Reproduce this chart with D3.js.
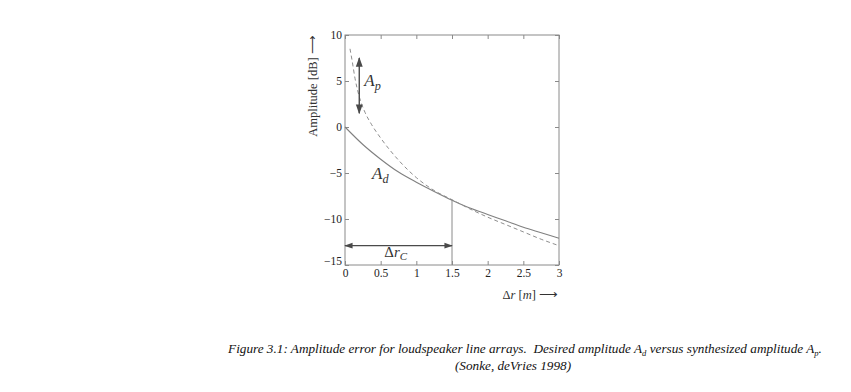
<!DOCTYPE html>
<html>
<head>
<meta charset="utf-8">
<script src="https://cdn.jsdelivr.net/npm/d3@7"></script>
<style>
  body { margin: 0; background: #fff; }
  svg text { font-family: "Liberation Serif", "Times New Roman", Tinos, serif; }
</style>
</head>
<body>
<div id="chart"></div>
<script>
// values
const rDesired = [0, 0.25, 0.5, 0.75, 1, 1.25, 1.5, 1.75, 2, 2.25, 2.5, 2.75, 3];
const ampDesired = [0, -1.9, -3.5, -4.9, -6.0, -7.0, -7.95, -8.8, -9.5, -10.2, -10.9, -11.5, -12.1];

const rSynth = [0.07, 0.1, 0.14, 0.2, 0.28, 0.37, 0.5, 0.75, 1, 1.25, 1.5, 1.75, 2, 2.25, 2.5, 2.75, 3];
const ampSynth = [8.5, 7.2, 5.3, 3.3, 1.6, 0.3, -1.2, -3.6, -5.5, -6.9, -7.9, -8.9, -9.8, -10.6, -11.4, -12.2, -12.9];

const xTicks = [0, 0.5, 1, 1.5, 2, 2.5, 3];
const yTicks = [10, 5, 0, -5, -10, -15];

// annotations
const apArrow = { r: 0.2, from: 7.5, to: 1.5 };
const drArrow = { amp: -12.9, from: 0, to: 1.5 };
const rCritical = 1.5;

const width = 851, height = 392;
const margin = { top: 35, right: 292, bottom: 127, left: 345 };
const w = width - margin.left - margin.right;
const h = height - margin.top - margin.bottom;

const svg = d3.select('#chart').append('svg')
  .attr('width', width)
  .attr('height', height);

const defs = svg.append('defs');
defs.append('marker')
  .attr('id', 'head')
  .attr('viewBox', '0 0 10 10')
  .attr('refX', 9).attr('refY', 5)
  .attr('markerWidth', 7).attr('markerHeight', 7)
  .attr('orient', 'auto-start-reverse')
  .append('path')
  .attr('d', 'M0,1.5 L10,5 L0,8.5 Z')
  .attr('fill', '#4a4a4a');

const g = svg.append('g')
  .attr('transform', 'translate(' + margin.left + ',' + margin.top + ')');

const x = d3.scaleLinear().domain([0, 3]).range([0, w]);
const y = d3.scaleLinear().domain([-15, 10]).range([h, 0]);

const grey = '#8a8a8a';
const tickFont = 11.5;

// frame
g.append('rect')
  .attr('width', w).attr('height', h)
  .attr('fill', 'none')
  .attr('stroke', grey)
  .attr('stroke-width', 1);

// inner ticks on all four sides, labels on left and bottom
const bottomAxis = g.append('g')
  .attr('transform', 'translate(0,' + h + ')')
  .call(d3.axisBottom(x).tickValues(xTicks).tickSizeInner(-4).tickSizeOuter(0).tickPadding(7)
    .tickFormat(d => d));
const topAxis = g.append('g')
  .call(d3.axisTop(x).tickValues(xTicks).tickSizeInner(-4).tickSizeOuter(0).tickFormat(''));
const leftAxis = g.append('g')
  .call(d3.axisLeft(y).tickValues(yTicks).tickSizeInner(-4).tickSizeOuter(0).tickPadding(3)
    .tickFormat(d => d < 0 ? '\u2212' + Math.abs(d) : d));
const rightAxis = g.append('g')
  .attr('transform', 'translate(' + w + ',0)')
  .call(d3.axisRight(y).tickValues(yTicks).tickSizeInner(-4).tickSizeOuter(0).tickFormat(''));

[bottomAxis, topAxis, leftAxis, rightAxis].forEach(a => {
  a.attr('font-family', null);
  a.select('.domain').remove();
  a.selectAll('line').attr('stroke', grey);
  a.selectAll('text')
    .attr('fill', '#222')
    .style('font-size', tickFont + 'px');
});
bottomAxis.selectAll('text').attr('dy', '0.45em');
leftAxis.selectAll('.tick').filter(d => d === -15).select('text').attr('dy', '-0.05em');

// curves
const line = d3.line()
  .x(d => x(d[0]))
  .y(d => y(d[1]))
  .curve(d3.curveMonotoneX);

g.append('path')
  .datum(d3.zip(rDesired, ampDesired))
  .attr('fill', 'none')
  .attr('stroke', '#808080')
  .attr('stroke-width', 1.1)
  .attr('d', line);

g.append('path')
  .datum(d3.zip(rSynth, ampSynth))
  .attr('fill', 'none')
  .attr('stroke', '#8e8e8e')
  .attr('stroke-width', 1)
  .attr('stroke-dasharray', '4,3')
  .attr('d', line);

// critical distance line
const critAmp = ampDesired[rDesired.indexOf(rCritical)];
g.append('line')
  .attr('x1', x(rCritical)).attr('x2', x(rCritical))
  .attr('y1', y(critAmp)).attr('y2', y(-15))
  .attr('stroke', '#8a8a8a')
  .attr('stroke-width', 1);

// arrows
g.append('line')
  .attr('x1', x(apArrow.r)).attr('x2', x(apArrow.r))
  .attr('y1', y(apArrow.from)).attr('y2', y(apArrow.to))
  .attr('stroke', '#4a4a4a').attr('stroke-width', 1.4)
  .attr('marker-start', 'url(#head)')
  .attr('marker-end', 'url(#head)');

g.append('line')
  .attr('x1', x(drArrow.from)).attr('x2', x(drArrow.to))
  .attr('y1', y(drArrow.amp)).attr('y2', y(drArrow.amp))
  .attr('stroke', '#4a4a4a').attr('stroke-width', 1.2)
  .attr('marker-start', 'url(#head)')
  .attr('marker-end', 'url(#head)');

// math labels
function mathLabel(px, py, base, sub, size) {
  const t = g.append('text')
    .attr('x', px).attr('y', py)
    .attr('fill', '#333')
    .style('font-size', size + 'px')
    .style('font-style', 'italic');
  t.append('tspan').text(base);
  t.append('tspan')
    .attr('dy', size * 0.25)
    .style('font-size', (size * 0.72) + 'px')
    .text(sub);
  return t;
}

mathLabel(x(apArrow.r) + 5, y(4.5), 'A', 'p', 17);
mathLabel(x(0.38), y(-5.6), 'A', 'd', 17);

const drLabel = g.append('text')
  .attr('x', x(0.55)).attr('y', y(-14.1))
  .attr('fill', '#333')
  .style('font-size', '15px');
drLabel.append('tspan').text('\u0394');
drLabel.append('tspan').style('font-style', 'italic').text('r');
drLabel.append('tspan')
  .attr('dy', 3)
  .style('font-style', 'italic')
  .style('font-size', '11px')
  .text('C');

// axis titles
const xTitle = svg.append('text')
  .attr('x', margin.left + w - 1).attr('y', 299)
  .attr('text-anchor', 'end')
  .attr('fill', '#333')
  .style('font-size', '12.5px');
xTitle.append('tspan').text('\u0394');
xTitle.append('tspan').style('font-style', 'italic').text('r');
xTitle.append('tspan').text(' [');
xTitle.append('tspan').style('font-style', 'italic').text('m');
xTitle.append('tspan').text('] \u27F6');

svg.append('text')
  .attr('transform', 'translate(317,' + 86 + ') rotate(-90)')
  .attr('text-anchor', 'middle')
  .attr('fill', '#333')
  .style('font-size', '12.5px')
  .text('Amplitude [dB] \u27F6');

// caption, sized so the first line spans the same width as in the figure
const captionWidth = 594;
const caption = svg.append('text')
  .attr('x', 525).attr('y', 353)
  .attr('text-anchor', 'middle')
  .attr('fill', '#111')
  .style('font-size', '16px')
  .style('font-style', 'italic');
caption.append('tspan').text('Figure 3.1: Amplitude error for loudspeaker line arrays.\u00A0 Desired amplitude A');
caption.append('tspan').attr('dy', 3).style('font-size', '0.65em').text('d');
caption.append('tspan').attr('dy', -3).text(' versus synthesized amplitude A');
caption.append('tspan').attr('dy', 3).style('font-size', '0.65em').text('p');
caption.append('tspan').attr('dy', -3).text('.');

const len = caption.node().getComputedTextLength();
const capSize = Math.min(17, 16 * captionWidth / len);
caption.style('font-size', capSize + 'px');

svg.append('text')
  .attr('x', 513).attr('y', 370)
  .attr('text-anchor', 'middle')
  .attr('fill', '#111')
  .style('font-size', capSize + 'px')
  .style('font-style', 'italic')
  .text('(Sonke, deVries 1998)');
</script>
</body>
</html>
